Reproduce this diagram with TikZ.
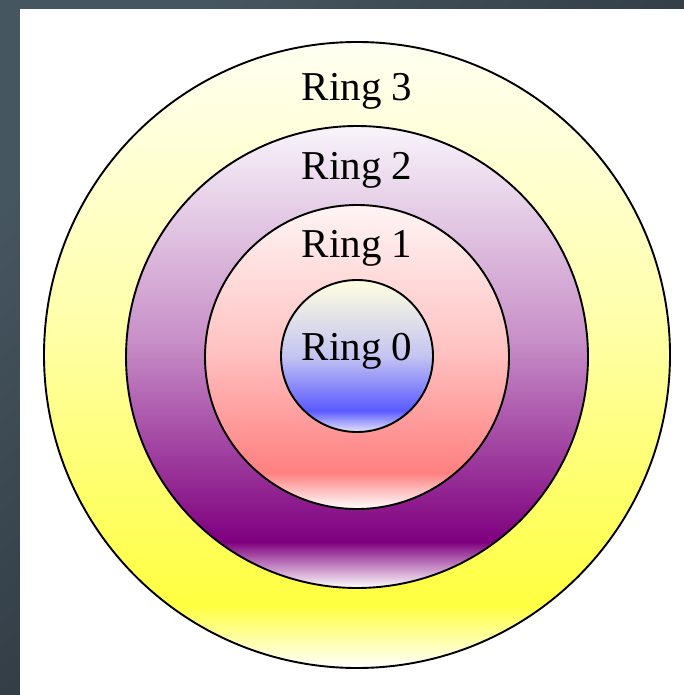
\documentclass[tikz,border=0pt]{standalone}
\usepackage{fontspec}
\setmainfont{Liberation Serif}
\usepackage{xcolor}
\usepackage{tikz}
\usetikzlibrary{positioning,shapes.geometric}

\definecolor{slatehi}{HTML}{465660}
\definecolor{slatelo}{HTML}{22272F}
\definecolor{yeltop}{HTML}{FFFFF2}
\definecolor{yelmid}{HTML}{FFFFA8}
\definecolor{yelbot}{HTML}{FFFF40}
\definecolor{purtop}{HTML}{F8F4FA}
\definecolor{purmid}{HTML}{C890C8}
\definecolor{purbot}{HTML}{7F007F}
\definecolor{redtop}{HTML}{FFF4F4}
\definecolor{redmid}{HTML}{FFC4C4}
\definecolor{redbot}{HTML}{FF8080}
\definecolor{blutop}{HTML}{FFFFE0}
\definecolor{blumid}{HTML}{C4C4F2}
\definecolor{blubot}{HTML}{5A5AFF}

\pgfdeclareverticalshading{ringthree}{100bp}{color(0bp)=(white); color(25bp)=(white); color(30bp)=(yelbot); color(52bp)=(yelmid); color(75bp)=(yeltop); color(100bp)=(yeltop)}
\pgfdeclareverticalshading{ringtwo}{100bp}{color(0bp)=(white); color(25bp)=(white); color(30bp)=(purbot); color(52bp)=(purmid); color(75bp)=(purtop); color(100bp)=(purtop)}
\pgfdeclareverticalshading{ringone}{100bp}{color(0bp)=(white); color(25bp)=(white); color(31bp)=(redbot); color(52bp)=(redmid); color(75bp)=(redtop); color(100bp)=(redtop)}
\pgfdeclareverticalshading{ringzero}{100bp}{color(0bp)=(blutop); color(25bp)=(blumid!40!white); color(32bp)=(blubot); color(50bp)=(blumid); color(75bp)=(blutop); color(100bp)=(blutop)}

\begin{document}
\begin{tikzpicture}[
  x=1pt, y=-1pt,
  ring/.style={circle, draw=black, line width=1.9pt, inner sep=0pt, outer sep=0pt},
  lbl/.style={inner sep=0pt, font=\fontsize{41}{44}\selectfont},
]
% slide backdrop
\shade[top color=slatehi, bottom color=slatelo, shading angle=45] (0,0) rectangle (684,695);
\fill[white] (20,9) rectangle (684,695);
\useasboundingbox (0,0) rectangle (684,695);

\node[ring, minimum size=626pt, shading=ringthree] (ring3) at (357,355) {};
\node[ring, minimum size=462pt, shading=ringtwo] (ring2) at (357,357) {};
\node[ring, minimum size=304pt, shading=ringone] (ring1) at (357,357) {};
\node[ring, minimum size=152pt, shading=ringzero] (ring0) at (357,356) {};

\node[lbl, below=31pt of ring3.north] (lbl3) {Ring 3};
\node[lbl, below=26pt of ring2.north] (lbl2) {Ring 2};
\node[lbl, below=25pt of ring1.north] (lbl1) {Ring 1};
\node[lbl, below=53pt of ring0.north] (lbl0) {Ring 0};
\end{tikzpicture}
\end{document}
